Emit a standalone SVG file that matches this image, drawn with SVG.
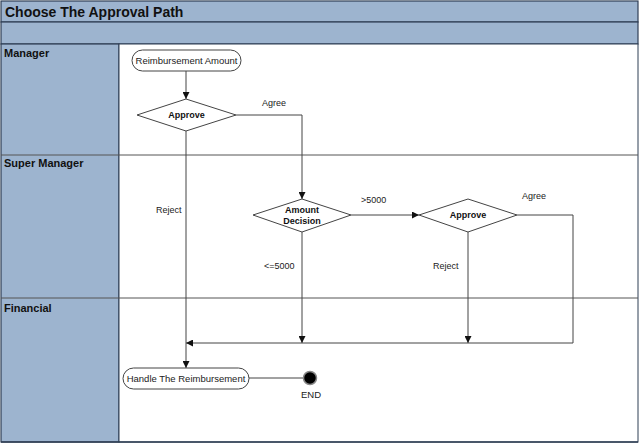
<svg xmlns="http://www.w3.org/2000/svg" width="640" height="443" viewBox="0 0 640 443">
<style>
.band{fill:#9db4cf;stroke:#2f3f55;stroke-width:1.2}
.lane{fill:#ffffff;stroke:#2f3f55;stroke-width:1}
.sep{stroke:#555;stroke-width:1}
.title{font-family:"Liberation Sans",Arial,sans-serif;font-size:14px;font-weight:bold;fill:#111}
.lh{font-family:"Liberation Sans",Arial,sans-serif;font-size:11px;font-weight:bold;fill:#111}
.nt{font-family:"Liberation Sans",Arial,sans-serif;font-size:9.5px;fill:#222;text-anchor:middle}
.bt{font-family:"Liberation Sans",Arial,sans-serif;font-size:9px;font-weight:bold;fill:#111;text-anchor:middle}
.lbl{font-family:"Liberation Sans",Arial,sans-serif;font-size:9px;fill:#222}
.shape{fill:#fff;stroke:#444;stroke-width:1}
.conn{fill:none;stroke:#444;stroke-width:1}
</style>
<defs>
<marker id="ah" viewBox="0 0 10 10" refX="10" refY="5" markerWidth="7" markerHeight="7" orient="auto" markerUnits="userSpaceOnUse">
<path d="M0,0 L10,5 L0,10 z" fill="#111"/>
</marker>
</defs>
<rect x="0" y="0" width="640" height="443" fill="#fff"/>
<g id="pool">
<rect class="band" x="1" y="1" width="637" height="21"/>
<rect class="band" x="1" y="22" width="637" height="22"/>
<text class="title" x="5" y="17">Choose The Approval Path</text>
<rect class="band" x="1" y="44" width="118" height="398"/>
<rect class="lane" x="119" y="44" width="519" height="398"/>
<line class="sep" x1="1" y1="155" x2="638" y2="155"/>
<line class="sep" x1="1" y1="298" x2="638" y2="298"/>
<line x1="1" y1="442" x2="638" y2="442" stroke="#2f3f55" stroke-width="1.5"/>
<text class="lh" x="4" y="57">Manager</text>
<text class="lh" x="4" y="167">Super Manager</text>
<text class="lh" x="4" y="312">Financial</text>
</g>
<g id="connectors">
<line class="conn" x1="186" y1="71" x2="186" y2="99" marker-end="url(#ah)"/>
<polyline class="conn" points="236,115 302,115 302,199" marker-end="url(#ah)"/>
<line class="conn" x1="351" y1="215" x2="419" y2="215" marker-end="url(#ah)"/>
<line class="conn" x1="302" y1="232" x2="302" y2="343" marker-end="url(#ah)"/>
<line class="conn" x1="468" y1="232" x2="468" y2="343" marker-end="url(#ah)"/>
<polyline class="conn" points="517,215 573,215 573,343 186,343" marker-end="url(#ah)"/>
<line class="conn" x1="186" y1="131" x2="186" y2="368" marker-end="url(#ah)"/>
<line class="conn" x1="249" y1="378" x2="304" y2="378"/>
<text class="lbl" x="262" y="106">Agree</text>
<text class="lbl" x="156" y="213">Reject</text>
<text class="lbl" x="361" y="203">&gt;5000</text>
<text class="lbl" x="264" y="269">&lt;=5000</text>
<text class="lbl" x="522" y="199">Agree</text>
<text class="lbl" x="433" y="269">Reject</text>
</g>
<g id="reimbursement-amount">
<rect class="shape" x="132" y="50" width="109" height="21" rx="10.5"/>
<text class="nt" x="186.5" y="64">Reimbursement Amount</text>
</g>
<g id="approve-manager">
<polygon class="shape" points="137,115 186,99 236,115 186,131"/>
<text class="bt" x="186.5" y="118">Approve</text>
</g>
<g id="amount-decision">
<polygon class="shape" points="253,215 302,199 351,215 302,232"/>
<text class="bt" x="302" y="213">Amount</text>
<text class="bt" x="302" y="224">Decision</text>
</g>
<g id="approve-super">
<polygon class="shape" points="419,215 468,199 517,215 468,232"/>
<text class="bt" x="468" y="218">Approve</text>
</g>
<g id="handle-reimbursement">
<rect class="shape" x="123" y="368" width="126" height="21" rx="10.5"/>
<text class="nt" x="186" y="382">Handle The Reimbursement</text>
</g>
<g id="end">
<circle cx="310" cy="378" r="6.5" fill="#000" stroke="#888" stroke-width="1.5"/>
<text class="nt" x="311" y="398">END</text>
</g>
</svg>
